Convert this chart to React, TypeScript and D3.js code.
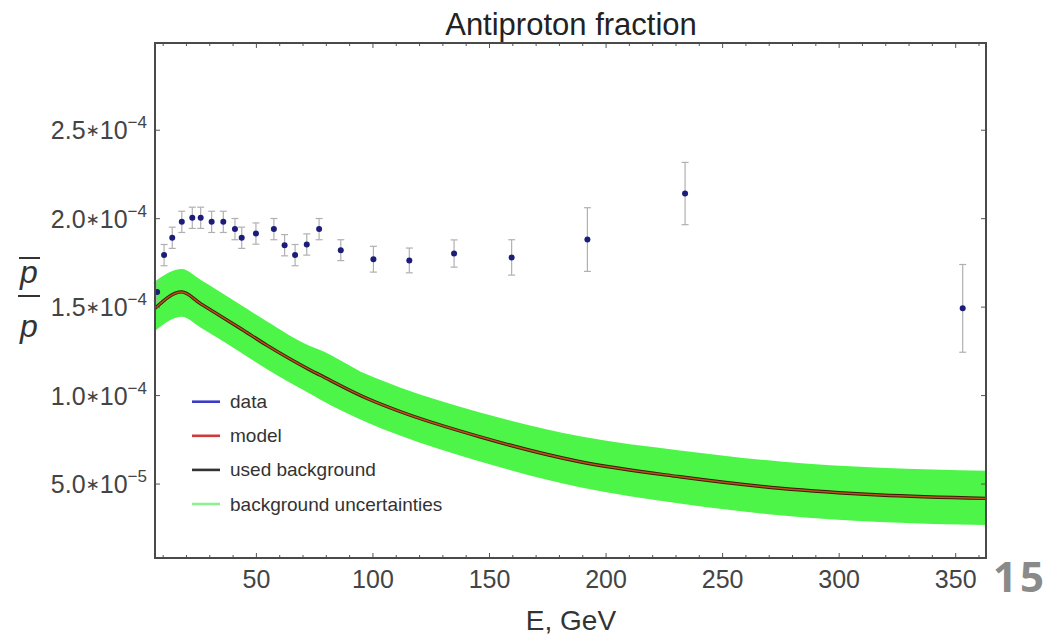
import React from "react";
import * as d3 from "d3";

// ---- data (values in units of 1e-6) ----
const dataE = [7.4, 10.4, 13.9, 18.0, 22.5, 26.1, 30.8, 35.8, 40.8, 43.7, 49.8, 57.5, 62.1, 66.6, 71.6, 76.9, 86.2, 100.2, 115.6, 134.8, 159.5, 192, 233.9, 353];
const dataV = [158.6, 179.4, 189.2, 198.2, 200.5, 200.5, 198.2, 198.2, 194.1, 189.2, 191.6, 194.1, 185.0, 179.4, 185.4, 194.1, 182.2, 177.1, 176.4, 180.3, 178.1, 188.2, 214.2, 149.3];
const dataErr = [5, 6, 6, 6, 6, 6, 6, 6, 6, 6, 6, 6, 6, 6, 6, 6, 5.9, 7.3, 7, 7.7, 10, 18, 17.6, 24.8];

const modelE = [6.5, 18, 26, 43, 54.4, 73, 77.3, 97.3, 111.6, 145.9, 188.8, 231.7, 274.6, 317.5, 363];
const modelV = [149.3, 158.6, 152, 138.1, 128.5, 114.5, 111.6, 98.5, 91, 76.7, 62.6, 54.1, 47.6, 43.8, 41.9];
const bandHigh = [164.5, 171.5, 165.5, 151.5, 142, 128, 125.8, 112, 104.6, 90.5, 77, 69, 62.8, 59.2, 57.5];
const bandLow = [136.5, 144.5, 138.5, 124.7, 115, 101, 97.8, 85, 77.4, 62.8, 48.2, 39, 32.4, 28.5, 26.8];

const xTickMajor = [50, 100, 150, 200, 250, 300, 350];
const xTickMinor = [10, 20, 30, 40, 60, 70, 80, 90, 110, 120, 130, 140, 160, 170, 180, 190, 210, 220, 230, 240, 260, 270, 280, 290, 310, 320, 330, 340, 360];
const yTickVals = [50, 100, 150, 200, 250];
const yTickMant = ["5.0", "1.0", "1.5", "2.0", "2.5"];
const yTickExp = ["−5", "−4", "−4", "−4", "−4"];

const legendItems = [
  { label: "data", color: "#3b3bc8" },
  { label: "model", color: "#d03a3a" },
  { label: "used background", color: "#333333" },
  { label: "background uncertainties", color: "#8cf08c" },
];

const L = 155, R = 986, T = 43, B = 558;

export default function App() {
  const x = d3.scaleLinear().domain([6.5, 363]).range([L, R]);
  const y = d3.scaleLinear().domain([8.2, 299.3]).range([B, T]);

  const band = d3
    .area<number>()
    .x((_, i) => x(modelE[i]))
    .y0((_, i) => y(bandLow[i]))
    .y1((_, i) => y(bandHigh[i]))
    .curve(d3.curveMonotoneX);
  const line = d3
    .line<number>()
    .x((_, i) => x(modelE[i]))
    .y((d) => y(d))
    .curve(d3.curveMonotoneX);

  const font = "'Liberation Sans', Arial, Helvetica, sans-serif";

  return (
    <svg width={1051} height={637} style={{ position: "absolute", left: 0, top: 0, background: "#fff" }} fontFamily={font}>
      <rect x={0} y={0} width={1051} height={637} fill="#fff" />
      <text x={571} y={35} fontSize={31} textAnchor="middle" fill="#222">Antiproton fraction</text>

      <defs>
        <clipPath id="plotclip">
          <rect x={L} y={T} width={R - L} height={B - T} />
        </clipPath>
      </defs>

      <g clipPath="url(#plotclip)">
        <path d={band(modelV) || ""} fill="#4cf548" />
        <path d={line(modelV) || ""} fill="none" stroke="#3a1a05" strokeWidth={3.4} />
        <path d={line(modelV) || ""} fill="none" stroke="#b9521c" strokeWidth={1.5} />
      </g>

      {/* data points with error bars */}
      <g>
        {dataE.map((e, i) => {
          const cx = x(e);
          const y1 = y(dataV[i] + dataErr[i]);
          const y0 = y(dataV[i] - dataErr[i]);
          return (
            <g key={i}>
              <line x1={cx} x2={cx} y1={y1} y2={y0} stroke="#b0b0b0" strokeWidth={1.2} />
              <line x1={cx - 3.5} x2={cx + 3.5} y1={y1} y2={y1} stroke="#b0b0b0" strokeWidth={1.2} />
              <line x1={cx - 3.5} x2={cx + 3.5} y1={y0} y2={y0} stroke="#b0b0b0" strokeWidth={1.2} />
              <circle cx={cx} cy={y(dataV[i])} r={3} fill="#1c1c7a" />
            </g>
          );
        })}
      </g>

      {/* legend */}
      {legendItems.map((it, i) => {
        const ly = 401.7 + i * 34.1;
        return (
          <g key={it.label}>
            <line x1={192} x2={220} y1={ly} y2={ly} stroke={it.color} strokeWidth={2.6} />
            <text x={230} y={ly + 6.5} fontSize={19} fill="#333">{it.label}</text>
          </g>
        );
      })}

      {/* ticks */}
      {xTickMinor.map((t) => (
        <g key={"mn" + t}>
          <line x1={x(t)} x2={x(t)} y1={B} y2={B - 3} stroke="#555" strokeWidth={1} />
          <line x1={x(t)} x2={x(t)} y1={T} y2={T + 3} stroke="#555" strokeWidth={1} />
        </g>
      ))}
      {xTickMajor.map((t) => (
        <g key={"mj" + t}>
          <line x1={x(t)} x2={x(t)} y1={B} y2={B - 5} stroke="#555" strokeWidth={1} />
          <line x1={x(t)} x2={x(t)} y1={T} y2={T + 5} stroke="#555" strokeWidth={1} />
          <text x={x(t)} y={588} fontSize={25} textAnchor="middle" fill="#444">{t}</text>
        </g>
      ))}
      {yTickVals.map((t, i) => (
        <g key={"y" + t}>
          <line x1={L} x2={L + 5} y1={y(t)} y2={y(t)} stroke="#555" strokeWidth={1} />
          <line x1={R} x2={R - 5} y1={y(t)} y2={y(t)} stroke="#555" strokeWidth={1} />
          <text x={147} y={y(t) + 9} fontSize={25} textAnchor="end" fill="#444">
            {yTickMant[i]}
            <tspan fontSize={17} dy={-3} fontFamily="'DejaVu Sans', sans-serif">∗</tspan>
            <tspan dy={3}>10</tspan>
            <tspan fontSize={17} dy={-11}>{yTickExp[i]}</tspan>
          </text>
        </g>
      ))}

      {/* frame */}
      <rect x={L} y={T} width={R - L} height={B - T} fill="none" stroke="#4a4a4a" strokeWidth={2} />

      {/* axis labels */}
      <text x={571} y={630} fontSize={28} textAnchor="middle" fill="#333">E, GeV</text>
      <g fill="#333">
        <text x={29} y={283} fontSize={32} fontStyle="italic" textAnchor="middle">p</text>
        <line x1={19} x2={40} y1={258} y2={258} stroke="#333" strokeWidth={2} />
        <line x1={18} x2={40} y1={296} y2={296} stroke="#333" strokeWidth={2} />
        <text x={29} y={337} fontSize={32} fontStyle="italic" textAnchor="middle">p</text>
      </g>

      <text x={1047} y={592} fontSize={42} fontWeight="bold" textAnchor="end" fill="#8a8a8a" fontFamily="'Open Sans', sans-serif" letterSpacing={3}>15</text>
    </svg>
  );
}
